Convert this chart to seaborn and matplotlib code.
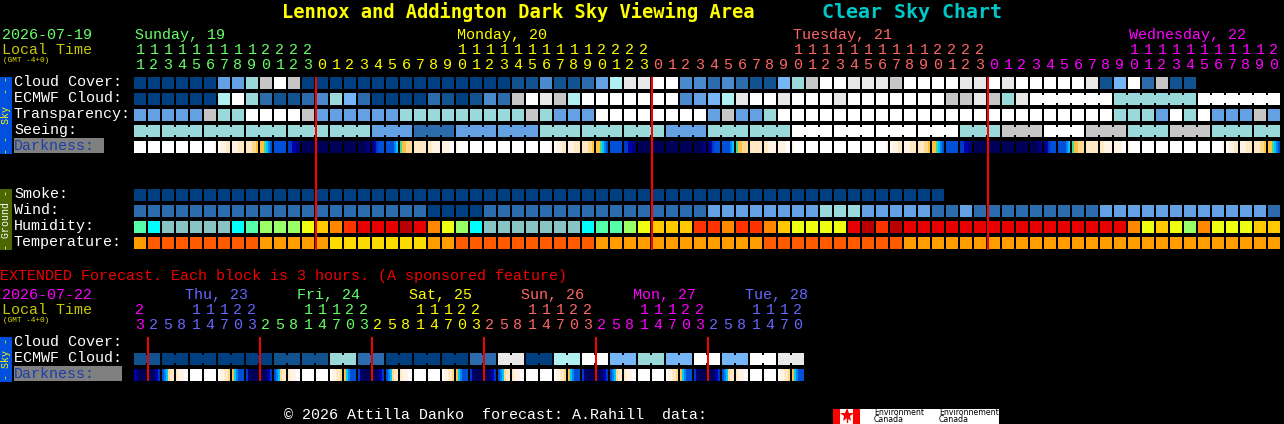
import numpy as np
import matplotlib
matplotlib.use("Agg")
import matplotlib.pyplot as plt
from matplotlib.colors import ListedColormap
import seaborn as sns

W, H = 1284, 424
PITCH, CELL = 14, 12
X0 = 134

# ---------- palettes (level -> colour) ----------
sky_colors = ["#ffffff", "#e8e8e8", "#c6c6c6", "#b0f0f0", "#99d9d9", "#77b6f6",
              "#63a1e3", "#4c8ace", "#2c6cac", "#11528f", "#003f7f"]
hum_colors = ["#00ffff", "#55ffaa", "#88c4c4", "#99ff66", "#eeff11",
              "#ffc800", "#ff8800", "#ff3300", "#e60000", "#b80000"]
temp_colors = ["#ffdc00", "#ff9c00", "#ff5a00"]
dark_colors = ["#000058", "#000080", "#0000b0", "#0038c8", "#0050d8", "#0088f0",
               "#00c8ff", "#40d8a0", "#ffc040", "#ffd890", "#ffe8c4", "#fff4e4", "#ffffff"]

# ---------- main chart ----------
hours = [11, 12, 13, 14, 15, 16, 17, 18, 19, 20, 21, 22, 23] + list(range(24)) * 2 + list(range(21))
cloud_cover = [10,10,10,10,10,10,6,6,4,2,0,2,10, 10,10,10,10,10,10,10,10,
               10,10,10,10,10,10,9,9,7,9,9,8,6,3,1,1,
               0,0,7,7,8,7,8,9,9,5,4,2,0,0,1,
               1,1,2,0,0,0,0,1,1,0,1,0,0,0,0,0,1,9,5,0,8,2,9,9]
ecmwf = [10,10,10,10,10,10,3,0,4,8,9,9,8,7,4,5,8,10,10,10,10,
         8,9,10,9,7,8,2,0,1,2,3,0,0,0,0,0,0,0,7,6,5,3,1,0,0,1,0,0,0,1,0,
         0,0,0,0,0,0,2,2,1,2,4,1,
         0,0,0,0,0,0,4,4,4,4,4,4,0,0,0,0,0,0]
ecmwf_joined_sizes = [6, 6, 6]
transparency = [6,6,6,6,6,2,4,4,0,0,0,0,2,6,6,6,6,6,6,
                4,4,4,4,4,4,4,4,4,2,4,6,6,6,0,0,0,0,0,0,0,0,6,2,6,6,4,
                0,0,0,0,0,0,0,0,0,0,0,0,0,0,0,0,0,0,0,0,0,0,0,0,
                4,4,4,6,0,4,0,6,6,6,2,6]
seeing_blocks = [4,4,4,4,4,4,6,8,6,6,4,4,4,6,4,4,0,0,0,0,4,2,0,2,4,2,4,4]
seeing_sizes = [2] + [3] * 26 + [2]
smoke = [10] * 58
wind = [8]*21 + [10,10,10,10] + [8]*16 + [6]*8 + [4,4,4] + [6]*5 + [8,8,6] + [8]*9 + [6]*12 + [8]
humidity = [1,0,2,2,2,2,2,0,1,3,3,3,4,5,6,7,8,8,8,9,8,
            6,4,3,0,2,2,2,2,2,2,2,0,1,1,3,4,5,5,5,7,7,6,7,7,6,5,4,4,4,4,8,
            9,7,9,8,8,8,8,8,8,8,8,8,8,8,8,8,8,8,8,
            6,4,5,4,3,6,4,4,4,5,5]
temperature = [1,2,2,2,2,2,2,2,2,1,1,1,1,1,0,0,0,0,0,0,0,
               1,1,2,2,2,2,2,2,2,2,2,2,1,1,1,1,1,1,1,1,1,1,1,1,
               2,2,2,2,2,2,2,2,2,2] + [1] * 27
# darkness: 24 hourly cells starting at 11h, six samples across each cell
darkness_day = [
    [12,12,12,12,12,12],[12,12,12,12,12,12],[12,12,12,12,12,12],[12,12,12,12,12,12],[12,12,12,12,12,12],
    [12,12,12,12,12,11],[12,11,11,11,10,10],[11,11,11,10,10,10],[10,10,10,9,9,8],[8,8,7,6,5,4],
    [4,4,4,4,4,4],[3,3,2,2,1,1],[0,0,0,0,0,0],[0,0,0,0,0,0],[0,0,0,0,0,0],[0,0,0,0,0,0],
    [0,0,0,0,1,1],[1,2,3,4,4,4],[4,4,4,4,5,6],[7,8,8,9,9,9],[10,10,10,10,10,10],
    [10,10,11,11,11,11],[11,11,11,11,12,12],[11,12,12,12,12,12],
]
darkness = darkness_day * 3 + darkness_day[:10]

row_labels = ["Cloud Cover:", "ECMWF Cloud:", "Transparency:", "Seeing:"]
ground_labels = ["Smoke:", "Wind:", "Humidity:", "Temperature:"]
day_names = ["Sunday, 19", "Monday, 20", "Tuesday, 21", "Wednesday, 22"]
day_label_cols = [0, 23, 47, 71]
day_colors = ["#66ff66", "#ffff00", "#ff6666", "#ff00ff"]
day_spans = [13, 24, 24, 21]
midnight_cols = [13, 37, 61]

# ---------- extended forecast ----------
ext_hours = ([23] + [2, 5, 8, 11, 14, 17, 20, 23] * 5 + [2, 5, 8, 11, 14, 17, 20])
ext_ecmwf = [9,10,10,10,10,9,9,4,8,10,10,10,8,1,10,3,0,5,4,5,0,5,0,1]
ext_dark_cycle = [[0,0,0,1,2,3],[4,5,6,9,10,10],[10,11,11,11,12,12],[12,12,12,12,12,12],
                  [12,12,12,12,12,12],[12,11,11,10,10,9],[8,6,5,4,4,4],[3,1,0,0,0,0]]
ext_darkness = [[2,1,0,0,0,0]] + ext_dark_cycle * 5 + ext_dark_cycle[:7]
ext_day_names = ["Thu, 23", "Fri, 24", "Sat, 25", "Sun, 26", "Mon, 27", "Tue, 28"]
ext_day_colors = ["#ff00ff", "#6666ff", "#66ff66", "#ffff00", "#ff6666", "#ff00ff", "#6666ff"]
ext_day_spans = [1, 8, 8, 8, 8, 8, 7]
ext_midnight_cols = [1, 9, 17, 25, 33, 41]

# ---------- drawing ----------
sns.set_theme(style="dark")
plt.rcParams["font.family"] = ["Liberation Mono", "DejaVu Sans Mono"]
plt.rcParams["axes.facecolor"] = "black"
plt.rcParams["figure.facecolor"] = "black"

fig = plt.figure(figsize=(W / 100, H / 100), dpi=100, facecolor="black")


def px_axes(left, top, width, height, **kw):
    return fig.add_axes([left / W, 1 - (top + height) / H, width / W, height / H], **kw)


def sample_row(samples, top, colors):
    """Heatmap of six 2 px samples per cell plus one empty sample as the gap."""
    m = [v for cell in samples for v in list(cell) + [np.nan]]
    ax = px_axes(X0, top, PITCH * len(samples), CELL)
    sns.heatmap(np.array([m], dtype=float), ax=ax, cmap=ListedColormap(colors),
                vmin=0, vmax=len(colors) - 1, cbar=False, linewidths=0,
                xticklabels=False, yticklabels=False)
    ax.set_facecolor("black")


def block_row(values, top, colors):
    sample_row([[v] * 6 for v in values], top, colors)


ROW = {"cloud": 77, "ecmwf": 93, "transp": 109, "seeing": 125, "dark": 141,
       "smoke": 189, "wind": 205, "hum": 221, "temp": 237,
       "x_cloud": 337, "x_ecmwf": 353, "x_dark": 369}

block_row(cloud_cover, ROW["cloud"], sky_colors)
block_row(ecmwf, ROW["ecmwf"], sky_colors)
block_row(transparency, ROW["transp"], sky_colors)
seeing_cells = [lv for lv, n in zip(seeing_blocks, seeing_sizes) for _ in range(n)]
block_row(seeing_cells, ROW["seeing"], sky_colors)
sample_row(darkness, ROW["dark"], dark_colors)
block_row(smoke, ROW["smoke"], sky_colors)
block_row(wind, ROW["wind"], sky_colors)
block_row(humidity, ROW["hum"], hum_colors)
block_row(temperature, ROW["temp"], temp_colors)
ext_cells = [lv for lv in ext_ecmwf for _ in range(2)]
block_row(ext_cells, ROW["x_ecmwf"], sky_colors)
sample_row(ext_darkness, ROW["x_dark"], dark_colors)

# overlay in pixel units: text, side bars, connectors, red midnight lines
ov = px_axes(0, 0, W, H)
ov.set_xlim(0, W)
ov.set_ylim(H, 0)
ov.axis("off")
ov.patch.set_alpha(0)


def col_x(c):
    return X0 + PITCH * c


def join_cells(start, size, level, top):
    for c in range(start, start + size - 1):
        ov.bar(col_x(c) + CELL, CELL - 4, width=PITCH - CELL, bottom=top + 2, align="edge",
               color=sky_colors[level], linewidth=0, zorder=2)


c = 0
for lv, n in zip(seeing_blocks, seeing_sizes):
    join_cells(c, n, lv, ROW["seeing"])
    c += n
c = 64
for n in ecmwf_joined_sizes:
    join_cells(c, n, ecmwf[c], ROW["ecmwf"])
    c += n
for i, lv in enumerate(ext_ecmwf):
    join_cells(2 * i, 2, lv, ROW["x_ecmwf"])

for c in midnight_cols:
    ov.bar(col_x(c) - 1, 173, width=2, bottom=77, align="edge", color="#ff0000", linewidth=0, zorder=4)
for c in ext_midnight_cols:
    ov.bar(col_x(c) - 1, 44, width=2, bottom=337, align="edge", color="#f00000", linewidth=0, zorder=4)


def txt(x, y, s, color="white", size=10.8, **kw):
    ov.text(x, y, s, color=color, fontsize=size, va="center", ha=kw.pop("ha", "left"), zorder=5, **kw)


# title
txt(282, 12, "Lennox and Addington Dark Sky Viewing Area", "#ffff00", 13.5, fontweight="bold",
    family="DejaVu Sans Mono")
txt(822, 12, "Clear Sky Chart", "#00c8c8", 14.4, fontweight="bold", family="DejaVu Sans Mono")

# side bars
for top, bottom, col, s, tc in [(77, 154, "#0050e0", "- -  Sky  - -", "#ffff00"),
                                (189, 250, "#4c6600", "- Ground -", "white"),
                                (337, 382, "#0050e0", "- Sky -", "#ffff00")]:
    ov.bar(0, bottom - top, width=12, bottom=top, align="edge", color=col, linewidth=0)
    ov.text(6, (top + bottom) / 2, s, color=tc, fontsize=7.2, rotation=90, ha="center", va="center")

# dark label boxes
ov.bar(14, 15, width=90, bottom=138, align="edge", color="#808080", linewidth=0)
ov.bar(14, 15, width=108, bottom=366, align="edge", color="#808080", linewidth=0)

# left column, main
txt(2, 35, "2026-07-19", day_colors[0])
txt(2, 50, "Local Time", "#c8c800")
txt(3, 61, "(GMT -4+0)", "#e0e000", 5.6)
for i, s in enumerate(row_labels):
    txt(14, 82 + 16 * i, s)
txt(14, 146, "Darkness:", "#1a3fa8")
for i, s in enumerate(ground_labels):
    txt(14, 194 + 16 * i, s)

# header digits, main
col_colors = [c for c, n in zip(day_colors, day_spans) for _ in range(n)]
for c, (h, colr) in enumerate(zip(hours, col_colors)):
    if h >= 10:
        txt(col_x(c) + 6, 50, str(h // 10), colr, ha="center")
    txt(col_x(c) + 6, 65, str(h % 10), colr, ha="center")
for s, c, colr in zip(day_names, day_label_cols, day_colors):
    txt(col_x(c) + 1, 35, s, colr)

# extended section
txt(0, 276, "EXTENDED Forecast. Each block is 3 hours. (A sponsored feature)", "#f00000")
txt(2, 295, "2026-07-22", "#ff00ff")
txt(2, 310, "Local Time", "#c8c800")
txt(3, 321, "(GMT -4+0)", "#e0e000", 5.6)
txt(14, 342, "Cloud Cover:")
txt(14, 358, "ECMWF Cloud:")
txt(14, 374, "Darkness:", "#1a3fa8")
ext_col_colors = [c for c, n in zip(ext_day_colors, ext_day_spans) for _ in range(n)]
for c, (h, colr) in enumerate(zip(ext_hours, ext_col_colors)):
    if h >= 10:
        txt(col_x(c) + 6, 310, str(h // 10), colr, ha="center")
    txt(col_x(c) + 6, 325, str(h % 10), colr, ha="center")
for i, s in enumerate(ext_day_names):
    txt(col_x(3 + 8 * i) + 9, 295, s, ext_day_colors[i + 1])

# footer
txt(284, 415, "\u00a9 2026 Attilla Danko  forecast: A.Rahill  data:")
ov.bar(833, 15, width=166, bottom=409, align="edge", color="white", linewidth=0)
ov.bar([833, 853], 15, width=7, bottom=409, align="edge", color="#ff0000", linewidth=0)
ov.plot([846.5], [415], marker="*", ms=10, color="#ff0000", mew=0)
ov.plot([846.5, 846.5], [417, 422], color="#ff0000", lw=1)
for x, lines in [(874, ("Environment", "Canada")), (939, ("Environnement", "Canada"))]:
    ov.text(x, 412.5, lines[0], color="black", fontsize=5.6, family="DejaVu Sans", va="center")
    ov.text(x, 420, lines[1], color="black", fontsize=5.6, family="DejaVu Sans", va="center")

fig.savefig("out.png", dpi=100, facecolor="black")
